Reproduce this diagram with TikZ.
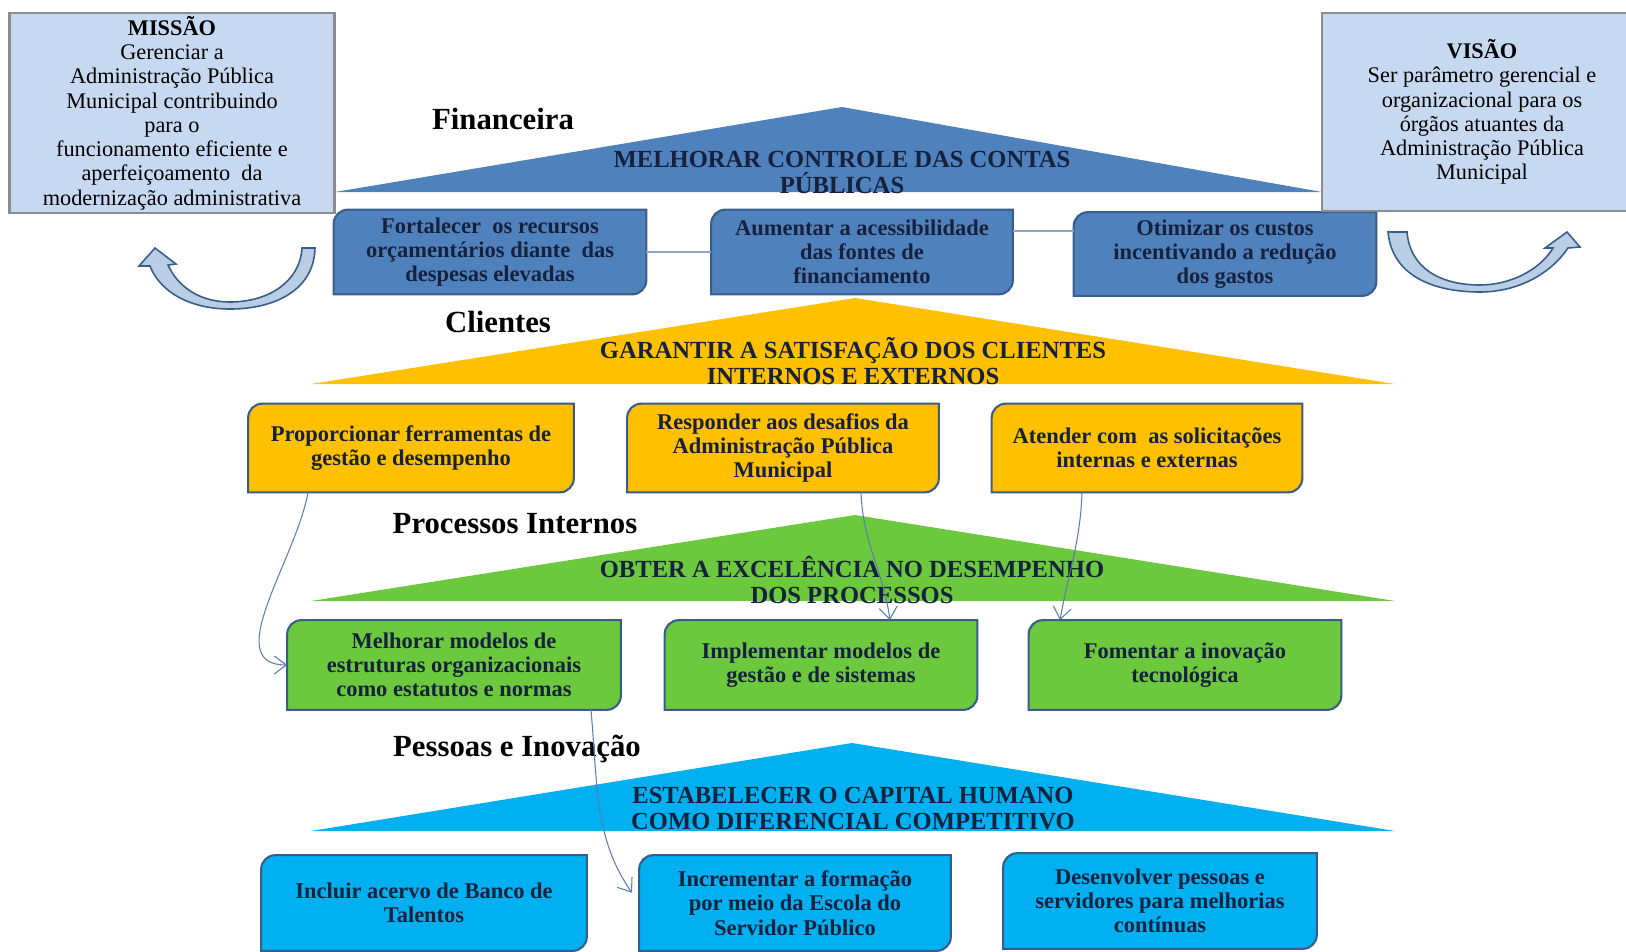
\documentclass[tikz,border=0pt]{standalone}
\usepackage{fontspec}
\setmainfont{Liberation Serif}
\usepackage{tikz}
\usetikzlibrary{calc,arrows.meta}

\definecolor{fin}{HTML}{4F81BD}
\definecolor{cli}{HTML}{FFC000}
\definecolor{proc}{HTML}{6CC83C}
\definecolor{pes}{HTML}{00B0F0}
\definecolor{claro}{HTML}{C6D9F1}
\definecolor{borda}{HTML}{385D8A}
\definecolor{texto}{HTML}{16213E}
\definecolor{seta}{HTML}{B9CDE5}
\definecolor{liga}{HTML}{5B7DB1}

\pgfdeclarelayer{fundo}
\pgfsetlayers{fundo,main}

\begin{document}
\begin{tikzpicture}[> = {Straight Barb[length=2.4mm, width=3.6mm]}, x = 0.02cm, y = -0.02cm]
            \tikzstyle{objbox}=[align=center, text=texto, inner sep=0pt, font=\fontsize{12.8}{13.8}\selectfont\bfseries]
            \tikzstyle{tri}=[align=center, text=texto, inner sep=0pt, font=\fontsize{14}{14.8}\selectfont\bfseries]
            \tikzstyle{persp}=[inner sep=0pt, font=\fontsize{17.5}{20}\selectfont\bfseries]
            \tikzstyle{quadro}=[draw=gray!90, line width=1.6pt, fill=claro, align=center, inner sep=1pt, font=\fontsize{12.7}{13.8}\selectfont]
            \tikzstyle{caixa}=[draw=borda, line width=1.2pt]
            \tikzstyle{link}=[draw=liga, line width=0.6pt]
            \tikzstyle{flink}=[draw=liga!70, line width=1pt]
            \tikzstyle{bigarrow}=[draw=borda, line width=0.9pt, fill=seta]

                \useasboundingbox (0,0) rectangle (1626,951);

                % Triângulos
                \fill[fin] (842,107) -- (1322,192) -- (335,192) -- cycle;
                \fill[cli] (855,298) -- (1395,384) -- (311,384) -- cycle;
                \fill[proc] (855,515) -- (1395,601) -- (311,601) -- cycle;
                \fill[pes] (852,743) -- (1395,831) -- (311,831) -- cycle;

                \node[tri] (tfin) at (842,172) {MELHORAR CONTROLE DAS CONTAS\\PÚBLICAS};
                \node[tri] (tcli) at (853,361) {GARANTIR A SATISFAÇÃO DOS CLIENTES\\INTERNOS E EXTERNOS};
                \node[tri] (tproc) at (852,580) {OBTER A EXCELÊNCIA NO DESEMPENHO\\DOS PROCESSOS};
                \node[tri] (tpes) at (853,809) {ESTABELECER O CAPITAL HUMANO\\COMO DIFERENCIAL COMPETITIVO};

                % Perspectivas
                \node[persp] (lfin) at (503,119) {Financeira};
                \node[persp] (lcli) at (498,322) {Clientes};
                \node[persp] (lproc) at (515,524) {Processos Internos};
                \node[persp] (lpes) at (517,749) {Pessoas e Inovação};

                % Missão e visão
                \node[quadro, minimum width=6.5cm, minimum height=4cm] (missao) at (172,113) {\textbf{MISSÃO}\\Gerenciar a\\Administração Pública\\Municipal contribuindo\\para o\\funcionamento eficiente e\\aperfeiçoamento\ \ da\\modernização administrativa};
                \node[quadro, minimum width=6.4cm, minimum height=3.96cm] (visao) at (1482,112) {\textbf{VISÃO}\\Ser parâmetro gerencial e\\organizacional para os\\órgãos atuantes da\\Administração Pública\\Municipal};

                % Objetivos
                \node[objbox, minimum width=6.24cm, minimum height=1.68cm] (fin1) at (490,252) {Fortalecer\ \ os recursos\\orçamentários diante\ \ das\\despesas elevadas};
                \node[objbox, minimum width=6.02cm, minimum height=1.68cm] (fin2) at (862,252) {Aumentar a acessibilidade\\das fontes de\\financiamento};
                \node[objbox, minimum width=6.04cm, minimum height=1.66cm] (fin3) at (1225,254) {Otimizar os custos\\incentivando a redução\\dos gastos};

                \node[objbox, minimum width=6.5cm, minimum height=1.76cm] (cli1) at (411,448) {Proporcionar ferramentas de\\gestão e desempenho};
                \node[objbox, minimum width=6.22cm, minimum height=1.76cm] (cli2) at (783,448) {Responder aos desafios da\\Administração Pública\\Municipal};
                \node[objbox, minimum width=6.2cm, minimum height=1.76cm] (cli3) at (1147,448) {Atender com\ \ as solicitações\\internas e externas};

                \node[objbox, minimum width=6.66cm, minimum height=1.78cm] (proc1) at (454,665) {Melhorar modelos de\\estruturas organizacionais\\como estatutos e normas};
                \node[objbox, minimum width=6.24cm, minimum height=1.78cm] (proc2) at (821,665) {Implementar modelos de\\gestão e de sistemas};
                \node[objbox, minimum width=6.24cm, minimum height=1.78cm] (proc3) at (1185,665) {Fomentar a inovação\\tecnológica};

                \node[objbox, minimum width=6.5cm, minimum height=1.9cm] (pes1) at (424,903) {Incluir acervo de Banco de\\Talentos};
                \node[objbox, minimum width=6.22cm, minimum height=1.9cm] (pes2) at (795,903) {Incrementar a formação\\por meio da Escola do\\Servidor Público};
                \node[objbox, minimum width=6.26cm, minimum height=1.9cm] (pes3) at (1160,901) {Desenvolver pessoas e\\servidores para melhorias\\contínuas};

                \begin{pgfonlayer}{fundo}
                \foreach \n/\c in {fin1/fin, fin2/fin, fin3/fin, cli1/cli, cli2/cli, cli3/cli, proc1/proc, proc2/proc, proc3/proc, pes1/pes, pes2/pes, pes3/pes}
                    \draw[caixa, fill=\c] (\n.west) [rounded corners=8pt] |- (\n.north) [sharp corners] -| (\n.east) [rounded corners=8pt] |- (\n.south) [sharp corners] -| (\n.west) -- cycle;
                \end{pgfonlayer}

                % Ligações
                \draw[flink] (fin1) -- (fin2);
                \draw[flink] (fin2.8) -- (fin2.8 -| fin3.west);
                \draw[link, ->] ($(cli1.south)+(-103,0)$) to[out=-100, in=180] (proc1.west);
                \draw[link, ->] ($(cli2.south)+(78,0)$) to[out=-88, in=98] ($(proc2.north)+(69,0)$);
                \draw[link, ->] ($(cli3.south)+(-65,0)$) to[out=-92, in=80] ($(proc3.north)+(-125,0)$);
                \draw[link, ->, shorten > = 0.25cm] ($(proc1.south)+(137,0)$) to[out=-85, in=125] (pes2.west);

                % Setas curvas
                \filldraw[bigarrow] (315,248) .. controls (314,290) and (275,309) .. (230,309) .. controls (190,309) and (160,292) .. (150,266) -- (139,266) -- (155,248) -- (176,264) -- (168,265) .. controls (178,287) and (200,302) .. (230,302) .. controls (268,302) and (300,282) .. (302,248) -- cycle;
                \filldraw[bigarrow] (1388,232) .. controls (1392,275) and (1432,292) .. (1480,292) .. controls (1520,292) and (1552,272) .. (1568,248) -- (1580,247) -- (1567,232) -- (1545,248) -- (1553,248) .. controls (1540,270) and (1510,285) .. (1480,285) .. controls (1440,285) and (1410,268) .. (1407,232) -- cycle;
        \end{tikzpicture}
\end{document}
